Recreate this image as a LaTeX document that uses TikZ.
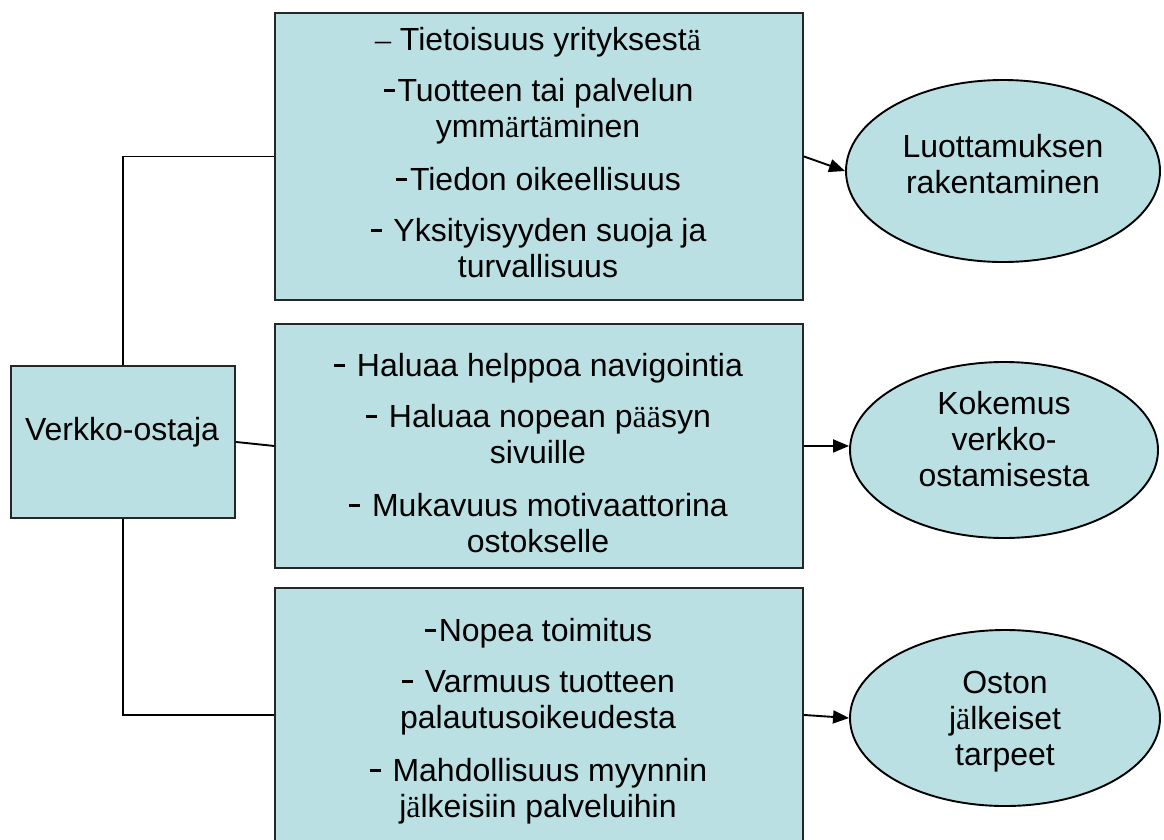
\documentclass[tikz,border=0pt]{standalone}
\usepackage{fontspec}
\setmainfont{Liberation Sans}
\newfontfamily\serifface{Liberation Serif}
\usetikzlibrary{shapes.geometric,arrows.meta}
\definecolor{boxfill}{RGB}{186,224,227}
% umlaut and en dash set in a serif face, raised heavy dash for list items
\newcommand\seraum{{\serifface ä}}
\newcommand\serdash{{\serifface –}}
\newcommand\rdash{\kern1pt\rule[9.5pt]{11pt}{3.2pt}\kern3pt}
\begin{document}
\begin{tikzpicture}[x=1pt,y=-1pt,
  box/.style={rectangle,draw=black!85,line width=1.9pt,fill=boxfill,inner sep=0pt,anchor=north west},
  oval/.style={ellipse,draw=black,line width=1.9pt,fill=boxfill,inner sep=0pt},
  txt/.style={font=\fontsize{32}{36}\selectfont,align=center,inner sep=0pt,anchor=north},
  link/.style={line width=1.9pt},
  arrow/.style={line width=1.9pt,-{Triangle[length=16pt,width=13pt]}}]
\useasboundingbox (0,0) rectangle (1164,839);

% boxes
\node[box,minimum width=224pt,minimum height=152pt] (buyer) at (10,365) {};
\node[box,minimum width=528pt,minimum height=287pt] (trust) at (274,12) {};
\node[box,minimum width=528pt,minimum height=244pt] (shop) at (274,323) {};
\node[box,minimum width=528pt,minimum height=254pt] (after) at (274,587) {};

% ellipses
\node[oval,minimum width=314pt,minimum height=182pt] (goal1) at (1003,171) {};
\node[oval,minimum width=308pt,minimum height=176pt] (goal2) at (1004,450) {};
\node[oval,minimum width=310pt,minimum height=176pt] (goal3) at (1005,718) {};

% texts
\node[txt] (buyertext) at (122,414.8) {\strut Verkko-ostaja};
\node[txt] (trusttext) at (538,24.8) {\strut\serdash\ Tietoisuus yritykses\-t\seraum\\[15pt]
  \rdash Tuotteen tai palvelun\\ ymm\seraum rt\seraum minen\\[17pt]
  \rdash Tiedon oikeellisuus\\[15pt]
  \rdash\ Yksityisyyden suoja ja\\ turvallisuus};
\node[txt] (shoptext) at (538,350.8) {\strut\rdash\ Haluaa helppoa navigointia\\[15pt]
  \rdash\ Haluaa nopean p\seraum\seraum syn\\ sivuille\\[17pt]
  \rdash\ Mukavuus motivaattorina\\ ostokselle};
\node[txt] (aftertext) at (538,615.8) {\strut\rdash Nopea toimitus\\[15pt]
  \rdash\ Varmuus tuotteen\\ palautusoikeudesta\\[17pt]
  \rdash\ Mahdollisuus myynnin\\ j\seraum lkeisiin palveluihin};
\node[txt] (goal1text) at (1003,131.8) {\strut Luottamuksen\\ rakentaminen};
\node[txt] (goal2text) at (1004,388.8) {\strut Kokemus\\ verkko-\\ ostamisesta};
\node[txt] (goal3text) at (1005,667.8) {\strut Oston\\ j\seraum lkeiset\\ tarpeet};

% connectors from the buyer box
\draw[link] (buyer.north) |- (trust.west);
\draw[link] (buyer.east) -- (shop.west);
\draw[link] (buyer.south) |- (after.west);

% arrows to the ellipses
\draw[arrow] (trust.east) -- (goal1.west);
\draw[arrow] (shop.east) -- (shop.east -| goal2.west);
\draw[arrow] (after.east) -- (goal3.west);
\end{tikzpicture}
\end{document}
